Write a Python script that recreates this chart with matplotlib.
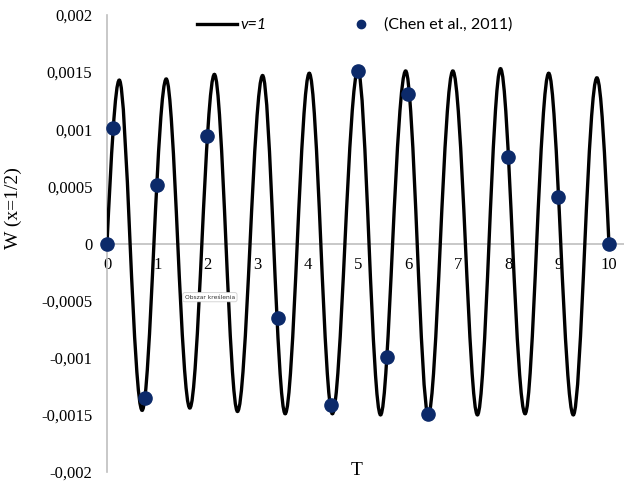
import numpy as np
import matplotlib
matplotlib.use("Agg")
import matplotlib.pyplot as plt
from matplotlib.path import Path
from matplotlib.patches import PathPatch
from matplotlib.lines import Line2D

# ---- data ----
# key points of the v=1 curve (zero crossings and extrema), T and W
curve_T = [0.0, 0.245, 0.46, 0.70, 0.935, 1.18, 1.41, 1.65, 1.89, 2.14, 2.37,
           2.60, 2.85, 3.10, 3.32, 3.55, 3.79, 4.03, 4.26, 4.49, 4.74, 5.00,
           5.22, 5.45, 5.69, 5.95, 6.18, 6.40, 6.64, 6.89, 7.14, 7.38, 7.61,
           7.84, 8.08, 8.33, 8.56, 8.80, 9.04, 9.29, 9.52, 9.76, 10.0]
curve_W = [0.0, 0.00143, 0.0, -0.00146, 0.0, 0.00144, 0.0, -0.00144, 0.0,
           0.00148, 0.0, -0.00147, 0.0, 0.00147, 0.0, -0.00149, 0.0, 0.00149,
           0.0, -0.00149, 0.0, 0.00152, 0.0, -0.00150, 0.0, 0.00151, 0.0,
           -0.00150, 0.0, 0.00151, 0.0, -0.00150, 0.0, 0.00153, 0.0, -0.00149,
           0.0, 0.00149, 0.0, -0.00150, 0.0, 0.00145, 0.0]

# (Chen et al., 2011) points
chen_T = [0.0, 0.11, 0.76, 1.0, 2.0, 3.41, 4.46, 5.01, 5.58, 5.99, 6.39,
          7.98, 8.98, 10.0]
chen_W = [0.0, 0.00101, -0.00135, 0.00051, 0.00094, -0.00065, -0.00141,
          0.00151, -0.00099, 0.00131, -0.00149, 0.00076, 0.00041, 0.0]

x_ticks = list(range(0, 11))
x_tick_labels = [str(v) for v in x_ticks]
y_ticks = [-0.002, -0.0015, -0.001, -0.0005, 0, 0.0005, 0.001, 0.0015, 0.002]
y_tick_labels = ['-0,002', '-0,0015', '-0,001', '-0,0005', '0',
                 '0,0005', '0,001', '0,0015', '0,002']

line_label = 'v=1'
chen_label = '(Chen et al., 2011)'

# ---- figure ----
W_PX, H_PX, DPI = 624, 483, 100
fig = plt.figure(figsize=(W_PX / DPI, H_PX / DPI), dpi=DPI)
ax = fig.add_axes([107 / W_PX, 1 - 472 / H_PX, 1 - 107 / W_PX, (472 - 15) / H_PX])
ax.set_xlim(0, 10.3)
ax.set_ylim(-0.002, 0.002)

gray = '#bfbfbf'
serif = 'Liberation Serif'

# smooth curve through the key points (rendered as a Bezier path in data coords)
T = curve_T
Wv = curve_W
n = len(T)
slopes = []
for i in range(n):
    a = max(i - 1, 0)
    b = min(i + 1, n - 1)
    slopes.append((np.pi / 2) * (Wv[b] - Wv[a]) / (T[b] - T[a]))
verts = [(T[0], Wv[0])]
codes = [Path.MOVETO]
for i in range(n - 1):
    h = T[i + 1] - T[i]
    verts += [(T[i] + h / 3, Wv[i] + slopes[i] * h / 3),
              (T[i + 1] - h / 3, Wv[i + 1] - slopes[i + 1] * h / 3),
              (T[i + 1], Wv[i + 1])]
    codes += [Path.CURVE4, Path.CURVE4, Path.CURVE4]
patch = PathPatch(Path(verts, codes), facecolor='none', edgecolor='black',
                  lw=2.4, zorder=3, transform=ax.transData, capstyle='round')
ax.add_patch(patch)

ax.plot(chen_T, chen_W, linestyle='none', marker='o', markersize=9.5,
        color='#0c2a6a', zorder=4, clip_on=False)

# axes styling
for s in ['top', 'right']:
    ax.spines[s].set_visible(False)
ax.spines['left'].set_color(gray)
ax.spines['left'].set_linewidth(1.2)
ax.spines['bottom'].set_position(('data', 0))
ax.spines['bottom'].set_color(gray)
ax.spines['bottom'].set_linewidth(1.2)
ax.spines['bottom'].set_zorder(1)

ax.set_xticks(x_ticks)
ax.set_xticklabels(x_tick_labels, fontfamily=serif, fontsize=12)
ax.set_yticks(y_ticks)
ax.set_yticklabels(y_tick_labels, fontfamily=serif, fontsize=12)
ax.tick_params(axis='x', length=0, pad=10)
ax.tick_params(axis='y', length=0, pad=10.5)

ax.set_ylabel('W (x=1/2)', fontfamily=serif, fontsize=14)
ax.yaxis.set_label_coords(-(107 - 22) / 517, (472 - 208) / 457)
ax.set_xlabel('T', fontfamily=serif, fontsize=14)
ax.xaxis.set_label_coords((357 - 107) / 517, (472 - 462) / 457)

# small tooltip artefact
ax.text(2.05, -0.00047, 'Obszar kreślenia', fontsize=4.3, fontfamily='DejaVu Sans',
        ha='center', va='center', color='#333333', zorder=6,
        bbox=dict(boxstyle='round,pad=0.35', fc='white', ec='#d0d0d0', lw=0.6))

# legend
h1 = Line2D([], [], color='black', lw=2.4)
h2 = Line2D([], [], color='#0c2a6a', marker='o', linestyle='none', markersize=6)
leg = fig.legend([h1, h2], [line_label, chen_label], ncol=2, frameon=False,
                 loc='center left', bbox_to_anchor=(197 / W_PX, 1 - 25 / H_PX),
                 borderaxespad=0, borderpad=0, handlelength=2.5,
                 handletextpad=0.2, columnspacing=4.7,
                 prop={'family': 'Lato', 'size': 11.5})
leg.get_texts()[0].set_fontstyle('italic')

fig.savefig('out.png', dpi=DPI)
